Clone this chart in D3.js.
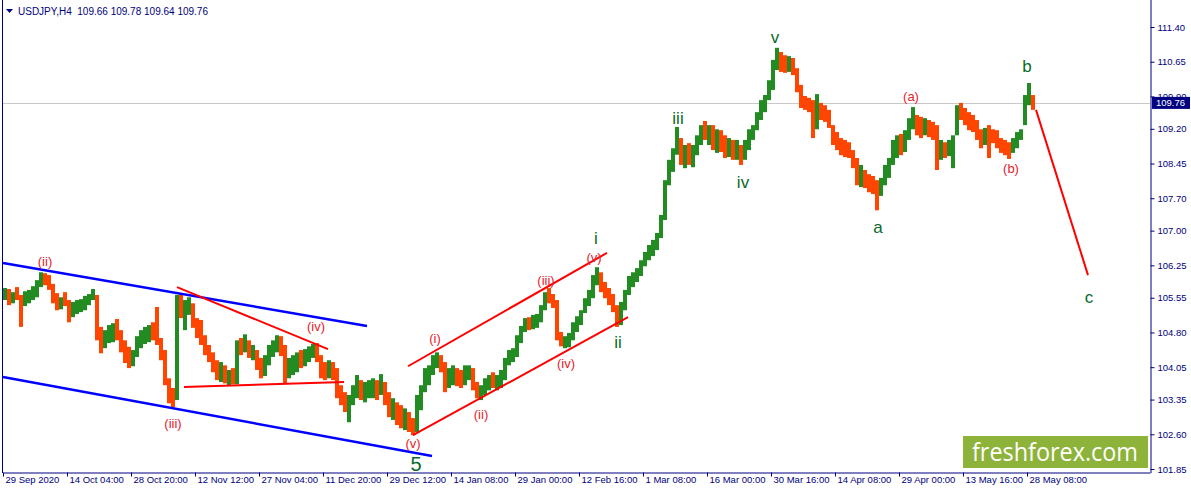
<!DOCTYPE html>
<html><head><meta charset="utf-8">
<script src="https://cdn.jsdelivr.net/npm/d3@7"></script>
<style>body{margin:0;background:#fff;}svg{display:block;}</style>
</head><body>
<svg id="c" width="1191" height="493"></svg>
<script>
// ---- data (USDJPY H4, each entry = 4 H4 bars) ----
const firstOpen = 105.60;
const highs = [
105.76,105.74,105.67,105.78,105.61,105.69,105.72,105.80,105.93,106.10,
106.08,106.04,105.85,105.65,105.56,105.67,105.50,105.46,105.50,105.52,
105.59,105.63,105.74,105.61,104.92,104.85,104.96,105.00,105.09,104.85,
104.63,104.49,104.42,104.72,104.85,104.92,104.96,105.02,105.35,104.68,
104.42,103.81,103.60,105.61,105.63,105.50,105.56,105.43,105.11,105.07,
104.74,104.53,104.37,104.20,104.16,104.09,103.99,104.03,104.63,104.68,
104.76,104.63,104.53,104.42,104.25,104.31,104.53,104.63,104.74,104.72,
104.53,104.25,104.31,104.37,104.42,104.44,104.50,104.55,104.57,104.31,
104.16,104.20,104.16,104.03,103.66,103.51,103.45,103.66,103.88,103.77,
103.73,103.77,103.81,103.77,103.90,103.73,103.51,103.38,103.29,103.23,
103.16,103.08,102.95,103.45,103.66,104.03,104.09,104.31,104.37,104.31,
104.16,104.03,104.09,104.03,103.99,104.09,104.09,104.03,103.73,103.66,
103.81,103.88,103.94,103.88,103.99,104.25,104.42,104.46,104.74,104.94,
105.11,105.13,105.18,105.20,105.39,105.67,105.76,105.63,105.50,104.81,
104.72,104.79,105.02,105.15,105.28,105.54,105.72,106.04,106.21,106.10,
105.89,105.76,105.63,105.39,105.46,105.72,106.02,106.10,106.19,106.36,
106.54,106.69,106.80,106.95,107.34,108.09,108.53,108.78,109.24,109.00,
108.85,108.89,108.85,109.06,109.28,109.37,109.28,109.28,109.19,109.17,
109.06,109.00,108.96,108.96,108.85,108.96,109.19,109.28,109.56,109.82,
109.93,110.25,110.69,110.95,110.86,110.79,110.77,110.73,110.51,110.15,
109.91,109.87,109.82,109.95,109.76,109.71,109.61,109.28,109.13,109.00,
108.96,108.91,108.74,108.57,108.42,108.31,108.22,108.18,108.09,108.14,
108.42,108.57,108.96,109.06,109.09,109.17,109.43,109.67,109.50,109.46,
109.43,109.39,109.35,109.28,108.96,108.91,108.96,109.06,109.71,109.76,
109.65,109.56,109.50,109.39,109.19,109.22,109.28,109.19,109.17,109.00,
108.96,108.91,109.00,109.13,109.19,109.93,110.19,109.93];
const lows = [
105.50,105.39,105.43,105.50,104.92,105.37,105.43,105.50,105.56,105.78,
105.82,105.72,105.43,105.28,105.30,105.37,105.02,105.13,105.20,105.24,
105.28,105.39,105.50,104.63,104.35,104.46,104.57,104.59,104.63,104.37,
104.14,104.03,104.07,104.27,104.46,104.55,104.59,104.63,104.53,104.20,
103.66,103.27,103.19,103.34,105.11,104.85,105.18,104.90,104.68,104.53,
104.31,104.16,103.94,103.77,103.73,103.70,103.66,103.68,103.68,104.31,
104.37,104.25,104.20,103.99,103.81,103.86,104.09,104.27,104.37,104.29,
103.70,103.81,103.88,103.94,104.03,104.07,104.16,104.25,104.16,103.81,
103.77,103.81,103.77,103.38,103.23,103.08,102.86,103.23,103.38,103.34,
103.29,103.38,103.38,103.34,103.45,103.23,102.97,102.91,102.80,102.73,
102.69,102.65,102.58,102.65,103.12,103.51,103.66,103.88,104.03,103.94,
103.51,103.60,103.66,103.64,103.60,103.66,103.77,103.55,103.38,103.34,
103.45,103.55,103.60,103.55,103.60,103.77,104.09,104.16,104.27,104.57,
104.81,104.85,104.87,104.90,105.02,105.28,105.43,105.33,104.63,104.50,
104.46,104.48,104.63,104.81,104.96,105.22,105.37,105.54,105.82,105.67,
105.54,105.39,105.24,104.92,104.96,105.28,105.61,105.78,105.89,106.02,
106.23,106.36,106.45,106.58,106.84,107.23,107.98,108.27,108.64,108.42,
108.35,108.42,108.37,108.63,108.85,108.96,108.85,108.74,108.68,108.70,
108.57,108.59,108.53,108.53,108.42,108.53,108.74,108.96,109.17,109.39,
109.56,109.82,110.04,110.47,110.43,110.41,110.43,110.36,109.99,109.65,
109.61,109.56,109.00,109.19,109.39,109.35,109.22,108.85,108.74,108.63,
108.59,108.57,108.35,107.98,107.94,107.92,107.83,107.79,107.44,107.75,
107.98,108.14,108.42,108.57,108.63,108.70,108.96,109.19,109.06,109.00,
109.06,109.02,108.96,108.31,108.53,108.57,108.61,108.35,109.06,109.39,
109.28,109.17,109.13,108.96,108.78,108.85,108.57,108.89,108.78,108.68,
108.63,108.55,108.68,108.78,108.96,109.28,109.71,109.61];
const closes = [
105.67,105.50,105.59,105.54,105.39,105.59,105.65,105.72,105.85,105.97,
105.93,105.76,105.50,105.37,105.50,105.43,105.24,105.33,105.41,105.46,
105.50,105.56,105.61,104.74,104.53,104.68,104.81,104.85,104.72,104.46,
104.31,104.20,104.29,104.63,104.68,104.81,104.85,104.76,104.63,104.31,
103.77,103.45,103.38,105.50,105.24,105.28,105.39,105.02,104.81,104.63,
104.42,104.29,104.09,103.94,103.99,103.81,103.88,103.77,104.53,104.42,
104.63,104.37,104.42,104.09,103.94,104.16,104.42,104.53,104.63,104.42,
103.88,104.09,104.16,104.25,104.20,104.31,104.42,104.46,104.25,103.99,
103.94,104.03,103.99,103.51,103.38,103.23,103.34,103.51,103.66,103.51,
103.55,103.60,103.66,103.60,103.66,103.34,103.12,103.23,102.95,102.86,
102.91,102.78,102.69,103.34,103.51,103.88,103.99,104.16,104.25,104.07,
103.66,103.81,103.94,103.77,103.73,103.88,103.94,103.64,103.51,103.55,
103.66,103.77,103.68,103.73,103.88,104.16,104.31,104.37,104.63,104.85,
105.02,104.96,105.07,105.11,105.33,105.59,105.54,105.46,104.72,104.59,
104.63,104.68,104.94,105.07,105.24,105.46,105.63,105.93,106.04,105.76,
105.67,105.50,105.28,105.02,105.37,105.65,105.93,106.02,106.10,106.28,
106.45,106.58,106.69,106.88,107.27,107.98,108.42,108.70,108.96,108.53,
108.74,108.53,108.70,108.96,109.17,109.13,109.19,108.96,109.06,108.85,
108.74,108.78,108.63,108.74,108.63,108.85,109.13,109.19,109.50,109.71,
109.87,110.15,110.58,110.79,110.69,110.64,110.69,110.47,110.08,109.82,
109.74,109.65,109.28,109.71,109.56,109.50,109.28,109.00,108.96,108.85,
108.78,108.63,108.48,108.14,108.20,108.05,107.98,107.92,107.88,108.05,
108.31,108.48,108.85,108.96,108.91,109.06,109.35,109.43,109.28,109.19,
109.30,109.17,109.13,108.74,108.78,108.74,108.83,108.96,109.61,109.56,
109.43,109.35,109.28,109.06,108.96,109.13,109.06,109.04,108.96,108.85,
108.78,108.74,108.91,109.04,109.13,109.82,109.91,109.76];
const barsPerEntry = 4;

const xTickLabels = ["29 Sep 2020","14 Oct 04:00","28 Oct 20:00","12 Nov 12:00","27 Nov 04:00","11 Dec 20:00","29 Dec 12:00","14 Jan 08:00","29 Jan 00:00","12 Feb 16:00","1 Mar 08:00","16 Mar 00:00","30 Mar 16:00","14 Apr 08:00","29 Apr 00:00","13 May 16:00","28 May 08:00"];
const barsPerXTick = 64;
const yTicks = [111.40,110.65,109.90,109.20,108.45,107.70,107.00,106.25,105.55,104.80,104.05,103.35,102.60,101.85];
const lastPrice = 109.76;
const headerText = "USDJPY,H4  109.66 109.78 109.64 109.76";

// trend lines: [bar1, price1, bar2, price2]
const blueLines = [[0,106.30,364,104.94],[0,103.84,429,102.13]];
const redLines = [[174,105.78,325,104.44],[181,103.62,341,103.73],[405,104.07,604,106.52],[410,102.58,625,105.13],[1033,109.61,1085,106.04]];

// wave labels
const waveText  = ["(ii)","(iii)","(iv)","(v)","5","(i)","(ii)","(iii)","(iv)","(v)","i","ii","iii","iv","v","a","(a)","(b)","b","c"];
const waveBar   = [42,170,313,410,413,432,478,543,563,591,593,615,675,740,772,875,908,1008,1024,1086];
const wavePrice = [106.34,102.84,104.92,102.41,101.96,104.68,103.03,105.93,104.14,106.41,106.82,104.59,109.43,108.05,111.18,107.06,109.89,108.35,110.54,105.56];
const waveKind  = ["r","r","r","r","G","r","r","r","r","r","g","g","g","g","g","g","r","r","g","g"];

// ---- drawing ----
const svg = d3.select("#c");
const navy = "#000080";
const font = "'Liberation Sans', Arial, sans-serif";
const x = d3.scaleLinear().domain([0,1147]).range([3,1150]);
const y = d3.scaleLinear().domain([101.85,111.40]).range([469,27]);

// current price line
svg.append("line").attr("x1",x(0)).attr("x2",x(1147))
  .attr("y1",Math.round(y(lastPrice))+0.5).attr("y2",Math.round(y(lastPrice))+0.5)
  .attr("stroke","#c8c8c8").attr("stroke-width",1);

// bars
const entries = highs.map((h,i)=>({i,h,l:lows[i],c:closes[i],o:i===0?firstOpen:closes[i-1]}));
svg.append("g").selectAll("rect").data(entries).join("rect")
  .attr("x",d=>x(d.i*barsPerEntry))
  .attr("width",d=>x((d.i+1)*barsPerEntry)-x(d.i*barsPerEntry))
  .attr("y",d=>y(d.h))
  .attr("height",d=>Math.max(1,y(d.l)-y(d.h)))
  .attr("fill",d=>d.c>d.o?"#228b22":(d.c<d.o?"#ff4500":"#000"));

// lines
const lineG = svg.append("g").attr("fill","none");
lineG.selectAll(".bl").data(blueLines).join("line")
  .attr("x1",d=>x(d[0])).attr("y1",d=>y(d[1])).attr("x2",d=>x(d[2])).attr("y2",d=>y(d[3]))
  .attr("stroke","#0000ff").attr("stroke-width",2.5);
lineG.selectAll(".rl").data(redLines).join("line")
  .attr("x1",d=>x(d[0])).attr("y1",d=>y(d[1])).attr("x2",d=>x(d[2])).attr("y2",d=>y(d[3]))
  .attr("stroke","#ff0000").attr("stroke-width",2);

// wave labels
svg.append("g").selectAll("text").data(waveText).join("text")
  .attr("x",(d,i)=>x(waveBar[i])).attr("y",(d,i)=>y(wavePrice[i]))
  .attr("text-anchor","middle").attr("dominant-baseline","central")
  .attr("font-family",font)
  .attr("font-size",(d,i)=>waveKind[i]==="r"?13:(waveKind[i]==="G"?20:17))
  .attr("fill",(d,i)=>waveKind[i]==="r"?"#e8202a":"#0a6a2a")
  .text(d=>d);

// logo
svg.append("rect").attr("x",963).attr("y",436).attr("width",185).attr("height",32).attr("fill","#8db33a");
svg.append("text").attr("x",972).attr("y",461).attr("font-family","'Open Sans', sans-serif")
  .attr("font-size",25).attr("fill","#fff").attr("textLength",166).attr("lengthAdjust","spacingAndGlyphs")
  .text("freshforex.com");

// frame
svg.append("line").attr("x1",2.5).attr("x2",2.5).attr("y1",0).attr("y2",473).attr("stroke",navy);
// bottom axis
const xa = svg.append("g").attr("transform","translate(0,472.5)")
  .call(d3.axisBottom(x).tickValues(xTickLabels.map((d,i)=>i*barsPerXTick))
    .tickFormat((d,i)=>xTickLabels[i]).tickSize(4).tickSizeOuter(0));
xa.select(".domain").attr("stroke",navy);
xa.selectAll("line").attr("stroke",navy);
xa.selectAll("text").attr("fill",navy).attr("font-family",font).attr("font-size",9.5)
  .attr("text-anchor","start").attr("x",2).attr("y",4);
// right axis
const ya = svg.append("g").attr("transform","translate(1150.5,0)")
  .call(d3.axisRight(y).tickValues(yTicks).tickFormat(d3.format(".2f")).tickSize(4).tickSizeOuter(0));
ya.select(".domain").attr("stroke",navy).attr("d","M0.5,0V473");
ya.selectAll("line").attr("stroke",navy);
ya.selectAll("text").attr("fill",navy).attr("font-family",font).attr("font-size",9.5).attr("x",7);

// last price tag
const ly = y(lastPrice);
svg.append("rect").attr("x",1152).attr("y",ly-6).attr("width",38).attr("height",12).attr("fill",navy);
svg.append("text").attr("x",1156).attr("y",ly).attr("dominant-baseline","central")
  .attr("font-family",font).attr("font-size",9.5).attr("fill","#fff").text(lastPrice.toFixed(2));

// header
svg.append("path").attr("d","M6,9 L13,9 L9.5,13 Z").attr("fill",navy);
svg.append("text").attr("x",18).attr("y",15).attr("font-family",font).attr("font-size",10)
  .attr("fill",navy).attr("xml:space","preserve").style("white-space","pre").text(headerText);
</script>
</body></html>
